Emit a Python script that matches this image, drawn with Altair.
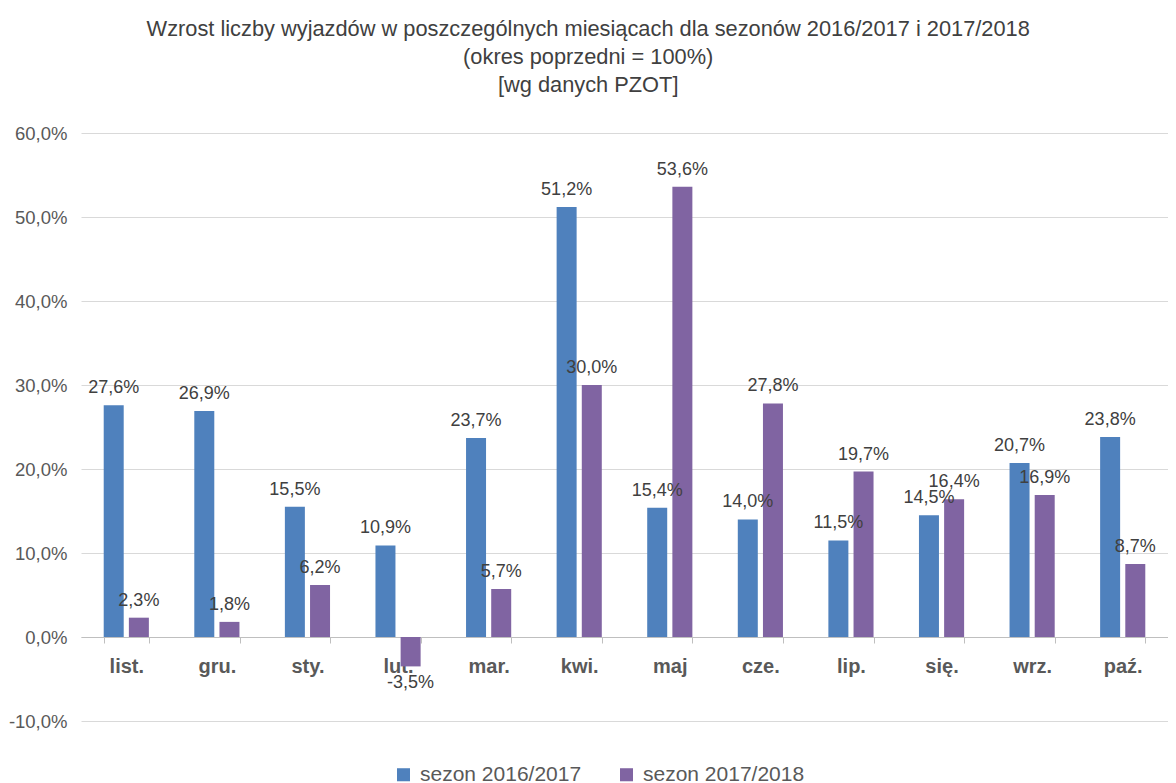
import altair as alt
import pandas as pd

months = ["list.", "gru.", "sty.", "lut.", "mar.", "kwi.", "maj", "cze.", "lip.", "się.", "wrz.", "paź."]
season_a = [27.6, 26.9, 15.5, 10.9, 23.7, 51.2, 15.4, 14.0, 11.5, 14.5, 20.7, 23.8]
season_b = [2.3, 1.8, 6.2, -3.5, 5.7, 30.0, 53.6, 27.8, 19.7, 16.4, 16.9, 8.7]
series_names = ["sezon 2016/2017", "sezon 2017/2018"]
colors = ["#4F81BD", "#8064A2"]
y_ticks = [-0.1, 0.0, 0.1, 0.2, 0.3, 0.4, 0.5, 0.6]

rows = []
for name, vals in zip(series_names, [season_a, season_b]):
    for m, v in zip(months, vals):
        rows.append({"month": m, "series": name, "value": v / 100.0,
                     "label": f"{v:.1f}%".replace(".", ",")})
df = pd.DataFrame(rows)

FONT = "Liberation Sans"
W, H = 1087, 588

x_enc = alt.X("month:N", sort=months,
              scale=alt.Scale(paddingInner=0.5, paddingOuter=0.25),
              axis=alt.Axis(title=None, orient="bottom", offset=-84,
                            labelFont=FONT, labelFontSize=20, labelFontWeight="bold",
                            labelColor="#595959", labelAngle=0, labelPadding=13,
                            domainColor="#BFBFBF", tickColor="#BFBFBF", tickSize=6,
                            tickBand="extent", grid=False))
xoff = alt.XOffset("series:N", sort=series_names, scale=alt.Scale(paddingInner=0.2))
y_enc = alt.Y("value:Q", scale=alt.Scale(domain=[-0.1, 0.6], nice=False),
              axis=alt.Axis(title=None, values=y_ticks,
                            labelExpr="replace(replace(format(datum.value, '.1%'), '.', ','), '−', '-')",
                            labelFont=FONT, labelFontSize=18.5, labelColor="#595959",
                            labelPadding=14, domain=False, ticks=False,
                            gridColor="#D9D9D9", gridWidth=1))
color_enc = alt.Color("series:N", sort=series_names,
                      scale=alt.Scale(domain=series_names, range=colors),
                      legend=alt.Legend(title=None, orient="none", direction="horizontal",
                                        legendX=312, legendY=631,
                                        symbolType="square", symbolSize=170,
                                        symbolStrokeWidth=0, labelLimit=0,
                                        labelFont=FONT, labelFontSize=21,
                                        labelColor="#595959", labelOffset=6,
                                        columnPadding=34))

base = alt.Chart(df)
bars = base.mark_bar(size=20).encode(x=x_enc, xOffset=xoff, y=y_enc, color=color_enc)

pos = base.transform_filter("datum.value >= 0").mark_text(
    baseline="bottom", dy=-8, font=FONT, fontSize=18, color="#404040"
).encode(x=alt.X("month:N", sort=months), xOffset=xoff, y="value:Q", text="label:N")

neg = base.transform_filter("datum.value < 0").mark_text(
    baseline="top", dy=8, font=FONT, fontSize=18, color="#404040"
).encode(x=alt.X("month:N", sort=months), xOffset=xoff, y="value:Q", text="label:N")

chart = alt.layer(bars, pos, neg).properties(
    width=W, height=H,
    padding={"left": 0, "top": 11, "right": 0, "bottom": 0},
    title=alt.TitleParams(
        text=["Wzrost liczby wyjazdów w poszczególnych miesiącach dla sezonów 2016/2017 i 2017/2018",
              "(okres poprzedni = 100%)", "[wg danych PZOT]"],
        font=FONT, fontSize=21.8, fontWeight="normal", color="#404040",
        lineHeight=28, anchor="middle", frame="bounds", offset=27),
).configure_view(stroke=None)

chart.save("out.html", embed_options={"renderer": "svg", "actions": False})
